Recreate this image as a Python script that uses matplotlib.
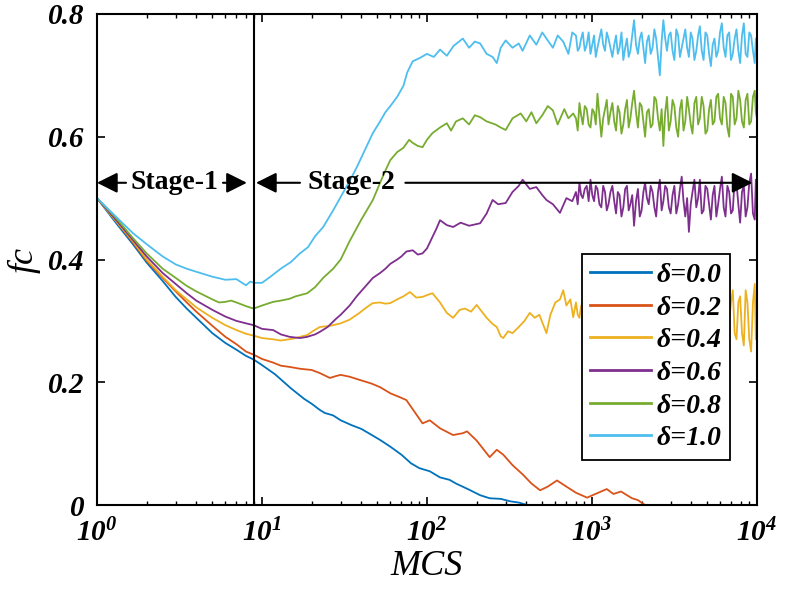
import matplotlib
matplotlib.use("Agg")
import matplotlib.pyplot as plt
from matplotlib.ticker import LogLocator, NullFormatter

plt.rcParams['font.family'] = ['Liberation Serif', 'DejaVu Serif']
plt.rcParams['mathtext.fontset'] = 'custom'
plt.rcParams['mathtext.rm'] = 'Liberation Serif:italic:bold'
plt.rcParams['mathtext.it'] = 'Liberation Serif:italic:bold'
plt.rcParams['mathtext.bf'] = 'Liberation Serif:italic:bold'

# ---- data ----
x_tail = [800, 820, 840, 860, 880, 905, 930, 955, 980, 1005,
          1030, 1055, 1080, 1110, 1140, 1170, 1200, 1230, 1260, 1295,
          1330, 1365, 1400, 1435, 1470, 1510, 1550, 1590, 1630, 1670,
          1710, 1755, 1800, 1850, 1900, 1950, 2000, 2050, 2100, 2155,
          2210, 2270, 2330, 2390, 2450, 2515, 2580, 2645, 2710, 2780,
          2850, 2925, 3000, 3080, 3160, 3245, 3330, 3415, 3500, 3590,
          3680, 3775, 3870, 3970, 4070, 4180, 4290, 4400, 4510, 4630,
          4750, 4875, 5000, 5130, 5260, 5395, 5530, 5675, 5820, 5975,
          6130, 6290, 6450, 6620, 6790, 6965, 7140, 7330, 7520, 7715,
          7910, 8120, 8330, 8545, 8760, 8990, 9220, 9460, 9700, 9850,
          10000]

# delta = 0.0
x_d00 = [1, 1.3, 1.65, 2, 2.5, 3, 3.5, 4, 5, 6, 7, 8, 8.9, 10, 12, 15, 18, 20, 22.4,
         24, 27, 30, 35, 40, 45, 52, 60, 70, 80, 90, 104, 120, 137, 150, 180, 210,
         240, 280, 320, 360, 405]
y_d00 = [0.5, 0.46, 0.425, 0.395, 0.365, 0.339, 0.32, 0.305, 0.28, 0.264, 0.253,
         0.243, 0.237, 0.228, 0.213, 0.19, 0.173, 0.165, 0.155, 0.15, 0.146, 0.138,
         0.13, 0.124, 0.116, 0.106, 0.095, 0.082, 0.068, 0.06, 0.055, 0.045, 0.041,
         0.035, 0.025, 0.016, 0.011, 0.01, 0.006, 0.004, 0.0]

# delta = 0.2
x_d02 = [1, 1.3, 1.65, 2, 2.5, 3, 3.5, 4, 5, 6, 7, 8, 8.9, 10, 11.7, 13, 14.7, 17,
         20, 22.4, 25.8, 28, 30, 34, 40, 46, 52, 60, 68, 75, 85, 94, 104, 120, 144,
         165, 175, 200, 240, 265, 290, 330, 380, 430, 485, 540, 614, 700, 800, 935,
         1050, 1230, 1350, 1500, 1750, 1900, 2040, 2100]
y_d02 = [0.5, 0.463, 0.428, 0.398, 0.37, 0.348, 0.33, 0.315, 0.292, 0.274, 0.262,
         0.25, 0.245, 0.238, 0.232, 0.227, 0.225, 0.222, 0.22, 0.215, 0.207, 0.21,
         0.212, 0.209, 0.203, 0.198, 0.192, 0.182, 0.176, 0.171, 0.15, 0.133, 0.138,
         0.125, 0.114, 0.117, 0.12, 0.105, 0.078, 0.09, 0.082, 0.065, 0.05, 0.035,
         0.024, 0.03, 0.04, 0.03, 0.02, 0.012, 0.018, 0.026, 0.018, 0.022, 0.011,
         0.008, 0.002, 0.0]

# delta = 0.4
x_d04 = [1, 1.3, 1.65, 2, 2.5, 3, 3.5, 4, 5, 6, 7, 8, 8.9, 10, 11.7, 13, 15.4, 18.8,
         20, 22.4, 26, 30, 34, 39, 43, 47, 52, 56, 60, 66, 72, 79, 86, 94, 100, 108,
         120, 132, 144, 158, 170, 185, 200, 230, 250, 265, 280, 290, 310, 330, 360,
         390, 420, 450, 480, 530, 560, 600, 640, 670, 700, 740, 770]
y_d04 = [0.5, 0.463, 0.43, 0.4, 0.372, 0.35, 0.335, 0.322, 0.305, 0.293, 0.285,
         0.279, 0.276, 0.272, 0.27, 0.268, 0.271, 0.277, 0.282, 0.29, 0.292, 0.296,
         0.302, 0.313, 0.322, 0.329, 0.33, 0.328, 0.329, 0.335, 0.34, 0.347, 0.338,
         0.339, 0.342, 0.345, 0.33, 0.313, 0.305, 0.318, 0.32, 0.315, 0.326, 0.305,
         0.295, 0.29, 0.275, 0.272, 0.283, 0.28, 0.29, 0.3, 0.313, 0.305, 0.31, 0.28,
         0.31, 0.33, 0.335, 0.35, 0.325, 0.335, 0.306]
y_d04_tail = [0.33, 0.31, 0.305, 0.325, 0.32, 0.295, 0.3, 0.315, 0.325, 0.3,
              0.31, 0.325, 0.295, 0.31, 0.32, 0.29, 0.305, 0.32, 0.33, 0.305,
              0.3, 0.32, 0.315, 0.3, 0.29, 0.31, 0.32, 0.295, 0.305, 0.32,
              0.335, 0.31, 0.295, 0.32, 0.31, 0.3, 0.325, 0.305, 0.29, 0.31,
              0.315, 0.29, 0.3, 0.32, 0.33, 0.305, 0.295, 0.315, 0.32, 0.295,
              0.3, 0.325, 0.315, 0.3, 0.285, 0.31, 0.32, 0.295, 0.305, 0.32,
              0.33, 0.3, 0.29, 0.31, 0.315, 0.29, 0.3, 0.32, 0.325, 0.3,
              0.285, 0.315, 0.31, 0.29, 0.33, 0.31, 0.295, 0.32, 0.315, 0.295,
              0.28, 0.31, 0.325, 0.29, 0.3, 0.33, 0.35, 0.28, 0.27, 0.33,
              0.34, 0.28, 0.26, 0.35, 0.33, 0.27, 0.25, 0.33, 0.36, 0.27,
              0.29]

# delta = 0.6
x_d06 = [1, 1.3, 1.65, 2, 2.5, 3, 3.5, 4, 5, 6, 7, 8, 8.9, 10, 11.7, 13, 14.7, 17,
         18.8, 21, 22.4, 25, 28, 30, 34, 37.5, 42, 47, 52, 56, 60, 66, 70, 75, 82, 88,
         94, 100, 108, 114, 120, 132, 144, 160, 180, 210, 230, 250, 270, 300, 330,
         360, 380, 420, 460, 500, 530, 580, 640, 700, 760]
y_d06 = [0.5, 0.465, 0.432, 0.405, 0.378, 0.36, 0.345, 0.333, 0.318, 0.307, 0.3,
         0.296, 0.293, 0.287, 0.285, 0.278, 0.274, 0.272, 0.274, 0.278, 0.282, 0.29,
         0.303, 0.31, 0.325, 0.34, 0.355, 0.37, 0.378, 0.385, 0.393, 0.4, 0.405,
         0.413, 0.415, 0.408, 0.41, 0.418, 0.437, 0.45, 0.464, 0.456, 0.453, 0.46,
         0.455, 0.459, 0.475, 0.497, 0.49, 0.492, 0.51, 0.52, 0.53, 0.515, 0.518,
         0.505, 0.497, 0.49, 0.476, 0.5, 0.495]
y_d06_tail = [0.51, 0.49, 0.525, 0.505, 0.5, 0.515, 0.52, 0.495, 0.53, 0.505,
              0.495, 0.52, 0.515, 0.49, 0.485, 0.52, 0.51, 0.48, 0.49, 0.51,
              0.52, 0.495, 0.475, 0.51, 0.505, 0.47, 0.485, 0.515, 0.52, 0.48,
              0.49, 0.505, 0.455, 0.495, 0.515, 0.47, 0.48, 0.51, 0.525, 0.5,
              0.49, 0.52, 0.51, 0.485, 0.47, 0.51, 0.53, 0.48, 0.495, 0.52,
              0.515, 0.485, 0.475, 0.505, 0.52, 0.475, 0.49, 0.515, 0.535, 0.495,
              0.47, 0.5, 0.445, 0.49, 0.51, 0.53, 0.485, 0.5, 0.53, 0.475,
              0.48, 0.52, 0.515, 0.49, 0.465, 0.505, 0.52, 0.47, 0.49, 0.515,
              0.535, 0.485, 0.47, 0.52, 0.51, 0.475, 0.48, 0.53, 0.525, 0.49,
              0.46, 0.51, 0.52, 0.47, 0.485, 0.525, 0.54, 0.475, 0.465, 0.53,
              0.51]

# delta = 0.8
x_d08 = [1, 1.3, 1.65, 2, 2.5, 3, 3.5, 4, 5, 5.5, 6, 6.5, 7, 8, 8.9, 10, 11.7, 13,
         14.7, 16, 18.8, 21, 23.5, 27, 30, 34, 40, 47, 52, 56, 60, 66, 72, 78, 82, 88,
         94, 100, 108, 120, 132, 140, 150, 165, 180, 195, 210, 230, 260, 280, 300,
         330, 370, 400, 430, 460, 500, 540, 580, 620, 680, 720, 770]
y_d08 = [0.5, 0.468, 0.435, 0.41, 0.385, 0.37, 0.357, 0.348, 0.335, 0.33, 0.331,
         0.333, 0.33, 0.324, 0.32, 0.325, 0.331, 0.333, 0.336, 0.34, 0.345, 0.355,
         0.37, 0.385, 0.4, 0.43, 0.465, 0.497, 0.525, 0.545, 0.562, 0.575, 0.582,
         0.595, 0.59, 0.585, 0.583, 0.595, 0.606, 0.615, 0.622, 0.61, 0.625, 0.63,
         0.62, 0.635, 0.632, 0.625, 0.62, 0.615, 0.611, 0.63, 0.638, 0.625, 0.64,
         0.622, 0.635, 0.65, 0.643, 0.62, 0.645, 0.63, 0.638]
y_d08_tail = [0.63, 0.61, 0.655, 0.635, 0.62, 0.65, 0.645, 0.62, 0.615, 0.645,
              0.64, 0.62, 0.67, 0.635, 0.6, 0.63, 0.645, 0.66, 0.62, 0.64,
              0.655, 0.625, 0.61, 0.65, 0.64, 0.605, 0.62, 0.645, 0.66, 0.615,
              0.63, 0.655, 0.675, 0.64, 0.615, 0.655, 0.65, 0.625, 0.6, 0.64,
              0.645, 0.615, 0.62, 0.665, 0.66, 0.63, 0.61, 0.645, 0.585, 0.64,
              0.665, 0.61, 0.625, 0.66, 0.65, 0.615, 0.6, 0.645, 0.66, 0.61,
              0.625, 0.665, 0.645, 0.62, 0.605, 0.655, 0.665, 0.62, 0.63, 0.665,
              0.65, 0.605, 0.61, 0.645, 0.66, 0.62, 0.625, 0.665, 0.67, 0.63,
              0.62, 0.665, 0.655, 0.615, 0.6, 0.67, 0.665, 0.62, 0.63, 0.675,
              0.66, 0.625, 0.615, 0.66, 0.67, 0.62, 0.625, 0.665, 0.675, 0.64,
              0.63]

# delta = 1.0
x_d10 = [1, 1.3, 1.65, 2, 2.5, 3, 3.5, 4, 5, 6, 7, 8, 8.5, 9, 10, 11, 13, 15, 17,
         19, 21, 23.5, 27, 30, 34, 37.5, 42, 47, 52, 56, 60, 66, 72, 76, 82, 90, 100,
         110, 120, 132, 145, 165, 180, 195, 210, 230, 250, 265, 280, 300, 330, 360,
         380, 420, 460, 500, 530, 580, 620, 670, 720, 760]
y_d10 = [0.5, 0.47, 0.443, 0.425, 0.405, 0.392, 0.385, 0.38, 0.372, 0.367, 0.368,
         0.358, 0.364, 0.362, 0.362, 0.37, 0.385, 0.396, 0.41, 0.42, 0.438, 0.453,
         0.48, 0.502, 0.528, 0.55, 0.578, 0.606, 0.625, 0.64, 0.65, 0.665, 0.683,
         0.705, 0.723, 0.728, 0.735, 0.73, 0.742, 0.732, 0.748, 0.76, 0.745, 0.755,
         0.752, 0.735, 0.73, 0.72, 0.745, 0.757, 0.745, 0.752, 0.74, 0.765, 0.75,
         0.77, 0.76, 0.745, 0.765, 0.755, 0.735, 0.77]
y_d10_tail = [0.765, 0.74, 0.745, 0.76, 0.77, 0.74, 0.75, 0.77, 0.735, 0.75,
              0.765, 0.73, 0.745, 0.76, 0.775, 0.75, 0.74, 0.77, 0.76, 0.745,
              0.73, 0.75, 0.765, 0.735, 0.745, 0.77, 0.725, 0.745, 0.76, 0.73,
              0.74, 0.765, 0.79, 0.75, 0.735, 0.76, 0.77, 0.745, 0.72, 0.755,
              0.765, 0.735, 0.745, 0.775, 0.76, 0.73, 0.70, 0.755, 0.79, 0.76,
              0.74, 0.765, 0.77, 0.74, 0.725, 0.775, 0.765, 0.73, 0.745, 0.76,
              0.775, 0.745, 0.73, 0.77, 0.76, 0.725, 0.74, 0.765, 0.78, 0.74,
              0.725, 0.77, 0.765, 0.735, 0.715, 0.75, 0.76, 0.73, 0.74, 0.77,
              0.785, 0.745, 0.73, 0.765, 0.77, 0.725, 0.735, 0.76, 0.775, 0.74,
              0.72, 0.765, 0.785, 0.735, 0.73, 0.77, 0.765, 0.74, 0.72, 0.76,
              0.745]

labels = ['δ=0.0', 'δ=0.2', 'δ=0.4', 'δ=0.6', 'δ=0.8', 'δ=1.0']
colors = ['#0072BD', '#D95319', '#EDB120', '#7E2F8E', '#77AC30', '#4DBEEE']

series = [
    (x_d00, y_d00),
    (x_d02, y_d02),
    (x_d04 + x_tail, y_d04 + y_d04_tail),
    (x_d06 + x_tail, y_d06 + y_d06_tail),
    (x_d08 + x_tail, y_d08 + y_d08_tail),
    (x_d10 + x_tail, y_d10 + y_d10_tail),
]

fig = plt.figure(figsize=(7.86, 6.03), dpi=100)
ax = fig.add_axes([0.1234, 0.1625, 0.8396, 0.8143])

for (xs, ys), c, lab in zip(series, colors, labels):
    ax.plot(xs, ys, color=c, lw=1.3, label=lab)

ax.axvline(8.9, color='black', lw=1.5)

ax.set_xscale('log')
ax.set_xlim(1, 10000)
ax.set_ylim(0, 0.8)

ax.set_xticks([1, 10, 100, 1000, 10000])
ax.set_xticklabels(['$10^{0}$', '$10^{1}$', '$10^{2}$', '$10^{3}$', '$10^{4}$'])
ax.xaxis.set_minor_locator(LogLocator(base=10, subs=range(2, 10)))
ax.xaxis.set_minor_formatter(NullFormatter())
ax.set_yticks([0, 0.2, 0.4, 0.6, 0.8])
ax.set_yticklabels(['0', '0.2', '0.4', '0.6', '0.8'], fontstyle='italic', fontweight='bold')

ax.tick_params(axis='both', which='both', direction='in', top=True, right=True)
ax.tick_params(axis='x', which='major', labelsize=21, length=6, width=1.2, pad=10)
ax.tick_params(axis='x', which='minor', length=3, width=1)
ax.tick_params(axis='y', which='major', labelsize=21, length=6, width=1.2, pad=9)
for s in ax.spines.values():
    s.set_linewidth(1.5)

ax.set_xlabel('MCS', fontsize=26, fontstyle='italic', labelpad=2)
ax.set_ylabel('fc', fontsize=26, fontstyle='italic', labelpad=5)

# stage annotations
arr = dict(arrowstyle='-|>,head_length=0.5,head_width=0.25', color='black',
           lw=1.5, mutation_scale=25, shrinkA=0, shrinkB=0)
ya = 0.525
ax.annotate('', xy=(1.0, ya), xytext=(1.5, ya), arrowprops=arr)
ax.annotate('', xy=(8.1, ya), xytext=(5.8, ya), arrowprops=arr)
ax.text(2.95, ya, 'Stage-1', fontsize=20, fontweight='bold', ha='center', va='center')
ax.annotate('', xy=(9.2, ya), xytext=(17, ya), arrowprops=arr)
ax.text(35, ya, 'Stage-2', fontsize=20, fontweight='bold', ha='center', va='center')
ax.annotate('', xy=(9400, ya), xytext=(74, ya), arrowprops=arr)

leg = ax.legend(loc='upper left', bbox_to_anchor=(0.735, 0.511), borderaxespad=0,
                fancybox=False, edgecolor='black', framealpha=1,
                prop=dict(size=20, style='italic', weight='bold'),
                handlelength=2.2, handletextpad=0.2, labelspacing=0.26,
                borderpad=0.3)
leg.get_frame().set_linewidth(1.3)
for h in leg.get_lines():
    h.set_linewidth(2)

fig.savefig('out.png', dpi=100)
